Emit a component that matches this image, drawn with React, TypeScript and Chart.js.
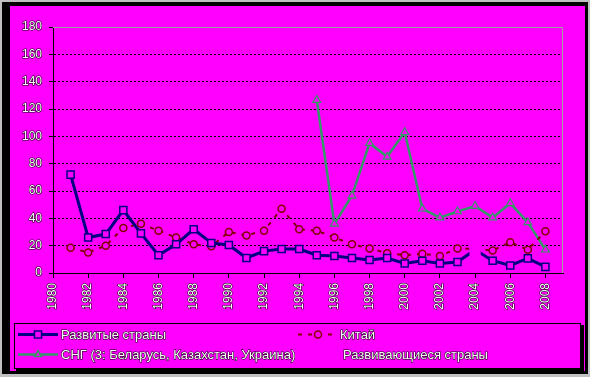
import { useEffect, useRef } from 'react';
import { Chart, registerables } from 'chart.js';

Chart.register(...registerables);

const years = [
  '1980', '1981', '1982', '1983', '1984', '1985', '1986', '1987', '1988', '1989',
  '1990', '1991', '1992', '1993', '1994', '1995', '1996', '1997', '1998', '1999',
  '2000', '2001', '2002', '2003', '2004', '2005', '2006', '2007', '2008', '2009',
];

const developed = [
  null, 72, 26, 28.5, 46, 29, 13, 21, 32, 22,
  20.5, 11, 16, 17.5, 17.5, 13, 12.5, 11, 9.5, 11,
  7, 9, 7, 8, 17, 9, 5.5, 10.7, 4.5, null,
];

const china = [
  null, 18.5, 15, 20, 33, 36, 31, 26, 21, 19.5,
  30, 27.5, 31, 47, 32, 31, 26, 21, 18, 14.5,
  13, 14, 12.5, 18, 17.5, 16.5, 22.5, 17, 30.5, null,
];

const cis = [
  null, null, null, null, null, null, null, null, null, null,
  null, null, null, null, null, 126.5, 36, 56.5, 95, 85,
  103, 47, 40.5, 45, 49, 40.5, 51, 37, 17, null,
];

const developing = [
  null, null, null, null, null, null, null, null, null, null,
  null, null, null, null, null, null, null, null, null, null,
  null, null, null, null, null, null, null, null, null, null,
];

const seriesNames = [
  'Развитые страны',
  'Китай',
  'СНГ (3: Беларусь, Казахстан, Украина)',
  'Развивающиеся страны',
];

const yTicks = [0, 20, 40, 60, 80, 100, 120, 140, 160, 180];

const MAGENTA = '#ff00ff';
const NAVY = '#000080';
const DARKRED = '#800000';
const GREEN = '#339966';
const FONT = '"Liberation Sans", Arial, sans-serif';

const gapIndex = years.indexOf('2004');

const framePlugin = {
  id: 'frame',
  beforeDraw(chart: any) {
    const ctx = chart.ctx;
    ctx.save();
    ctx.fillStyle = '#c0c0c0';
    ctx.fillRect(0, 0, chart.width, chart.height);
    ctx.fillStyle = '#000';
    ctx.fillRect(2, 2, 586, 372);
    ctx.fillStyle = MAGENTA;
    ctx.fillRect(10, 6, 575, 365);
    ctx.restore();
  },
  beforeDatasetsDraw(chart: any) {
    const { ctx, chartArea } = chart;
    const t = Math.round(chartArea.top) + 0.5;
    const r = Math.round(chartArea.right) - 0.5;
    const b = Math.round(chartArea.bottom);
    ctx.save();
    ctx.strokeStyle = '#a0a0a0';
    ctx.lineWidth = 1;
    ctx.beginPath();
    ctx.moveTo(chartArea.left, t);
    ctx.lineTo(r, t);
    ctx.lineTo(r, b);
    ctx.stroke();
    ctx.restore();
  },
};

function drawMarker(ctx: CanvasRenderingContext2D, style: string, cx: number, cy: number, radius: number) {
  ctx.beginPath();
  if (style === 'rect') {
    const s = Math.SQRT1_2 * radius;
    ctx.rect(cx - s, cy - s, 2 * s, 2 * s);
  } else if (style === 'triangle') {
    const h = radius * 1.5;
    const w = radius * Math.sin(Math.PI / 3);
    ctx.moveTo(cx, cy - h * 2 / 3);
    ctx.lineTo(cx + w, cy + h / 3);
    ctx.lineTo(cx - w, cy + h / 3);
    ctx.closePath();
  } else if (style === 'circle') {
    ctx.arc(cx, cy, radius, 0, Math.PI * 2);
  }
  ctx.fill();
  ctx.stroke();
}

const legendPlugin = {
  id: 'boxLegend',
  afterDraw(chart: any) {
    const ctx: CanvasRenderingContext2D = chart.ctx;
    const bx = 14, by = 323, bw = 567, bh = 46;
    ctx.save();
    ctx.fillStyle = '#000';
    ctx.fillRect(bx + 2, by + 2, bw + 1, bh + 1);
    ctx.fillStyle = MAGENTA;
    ctx.fillRect(bx, by, bw, bh);
    ctx.strokeStyle = '#000';
    ctx.lineWidth = 1;
    ctx.strokeRect(bx + 0.5, by + 0.5, bw - 1, bh - 1);

    const positions = [
      { x: 18, y: 334, gap: 3 },
      { x: 298, y: 334, gap: 2 },
      { x: 18, y: 354, gap: 3 },
      { x: 301, y: 354, gap: 2 },
    ];
    chart.data.datasets.forEach((ds: any, i: number) => {
      const p = positions[i];
      const x0 = p.x, x1 = p.x + 40;
      ctx.save();
      ctx.strokeStyle = ds.borderColor;
      ctx.lineWidth = ds.borderWidth;
      ctx.setLineDash(ds.borderDash || []);
      ctx.beginPath();
      ctx.moveTo(x0, p.y + 0.5);
      ctx.lineTo(x1, p.y + 0.5);
      ctx.stroke();
      ctx.setLineDash([]);
      if (ds.legendMarker) {
        ctx.fillStyle = MAGENTA;
        ctx.strokeStyle = ds.legendMarkerColor;
        ctx.lineWidth = 1.5;
        drawMarker(ctx, ds.legendMarker, (x0 + x1) / 2, p.y + 0.5, ds.legendMarkerRadius);
      }
      ctx.font = `13px ${FONT}`;
      ctx.textBaseline = 'middle';
      ctx.textAlign = 'left';
      ctx.lineWidth = 1;
      ctx.strokeStyle = '#000';
      ctx.fillStyle = '#fff';
      ctx.strokeText(ds.label, x1 + p.gap, p.y + 1);
      ctx.fillText(ds.label, x1 + p.gap, p.y + 1);
      ctx.restore();
    });
    ctx.restore();
  },
};

export default function App() {
  const ref = useRef<HTMLCanvasElement | null>(null);

  useEffect(() => {
    if (!ref.current) return;
    const chart = new Chart(ref.current, {
      type: 'line',
      data: {
        labels: years,
        datasets: [
          {
            label: seriesNames[0],
            data: developed,
            borderColor: NAVY,
            borderWidth: 3,
            pointStyle: 'rect',
            pointRadius: (c: any) => (c.dataIndex === gapIndex ? 8 : 5),
            pointBorderWidth: 1.5,
            pointBorderColor: (c: any) => (c.dataIndex === gapIndex ? 'rgba(0,0,0,0)' : NAVY),
            pointBackgroundColor: MAGENTA,
            spanGaps: false,
            legendMarker: 'rect',
            legendMarkerColor: NAVY,
            legendMarkerRadius: 5,
          } as any,
          {
            label: seriesNames[1],
            data: china,
            borderColor: DARKRED,
            borderWidth: 2,
            borderDash: [4, 6],
            pointStyle: 'circle',
            pointRadius: 3.5,
            pointBorderWidth: 1.5,
            pointBorderColor: DARKRED,
            pointBackgroundColor: MAGENTA,
            legendMarker: 'circle',
            legendMarkerColor: DARKRED,
            legendMarkerRadius: 3.5,
          } as any,
          {
            label: seriesNames[2],
            data: cis,
            borderColor: GREEN,
            borderWidth: 2.5,
            pointStyle: 'triangle',
            pointRadius: 4.5,
            pointBorderWidth: 1.2,
            pointBorderColor: GREEN,
            pointBackgroundColor: MAGENTA,
            legendMarker: 'triangle',
            legendMarkerColor: GREEN,
            legendMarkerRadius: 4,
          } as any,
          {
            label: seriesNames[3],
            data: developing,
            borderColor: MAGENTA,
            borderWidth: 2,
            pointRadius: 0,
          } as any,
        ],
      },
      options: {
        animation: false,
        responsive: false,
        maintainAspectRatio: false,
        layout: { padding: { left: 10, top: 27, right: 27, bottom: 64 } },
        plugins: {
          legend: { display: false },
          tooltip: { enabled: false },
          title: { display: false },
        },
        scales: {
          x: {
            type: 'category',
            offset: false,
            afterFit: (s: any) => { s.height = 40; },
            grid: {
              drawOnChartArea: false,
              drawTicks: true,
              tickLength: 5,
              tickColor: (c: any) => (c.index % 2 === 0 ? '#000' : 'rgba(0,0,0,0)'),
            },
            border: { display: true, color: '#000', width: 1 },
            ticks: {
              autoSkip: false,
              minRotation: 90,
              maxRotation: 90,
              padding: 5,
              color: '#fff',
              textStrokeColor: '#000',
              textStrokeWidth: 1,
              font: { family: FONT, size: 12 },
              callback: (_v: any, i: number) => (i % 2 === 0 ? years[i] : ''),
            },
          },
          y: {
            min: yTicks[0],
            max: yTicks[yTicks.length - 1],
            afterFit: (s: any) => { s.width = 43; },
            afterBuildTicks: (s: any) => { s.ticks = yTicks.map((v) => ({ value: v })); },
            grid: {
              color: (c: any) => (c.tick && (c.tick.value === 0 || c.tick.value === 180) ? 'rgba(0,0,0,0)' : '#000'),
              tickColor: '#000',
              tickLength: 4,
              lineWidth: 1,
            },
            border: { display: true, color: '#000', width: 1, dash: [2, 2] },
            ticks: {
              padding: 7,
              color: '#fff',
              textStrokeColor: '#000',
              textStrokeWidth: 1,
              font: { family: FONT, size: 12 },
            },
          },
        },
      },
      plugins: [framePlugin, legendPlugin],
    } as any);
    return () => chart.destroy();
  }, []);

  return (
    <div style={{ position: 'fixed', left: 0, top: 0, width: 590, height: 377 }}>
      <canvas ref={ref} width={590} height={377} style={{ display: 'block' }} />
    </div>
  );
}
